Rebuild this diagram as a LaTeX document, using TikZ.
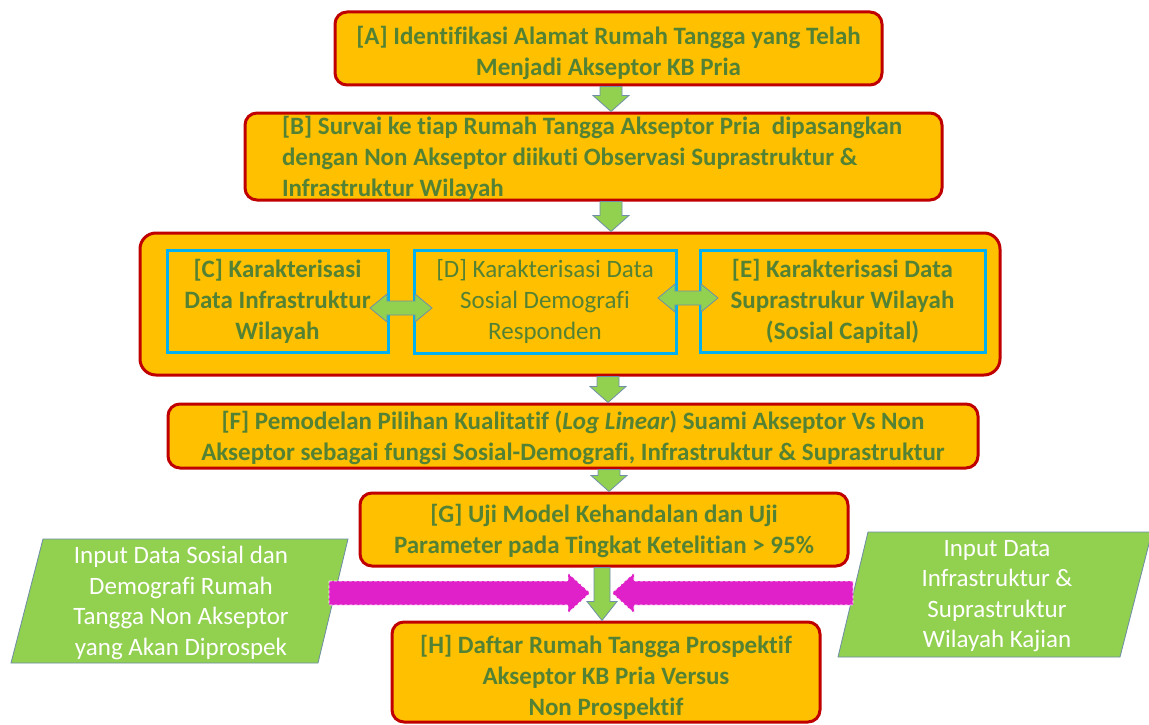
\documentclass[tikz,border=0pt]{standalone}
\usepackage{fontspec}
\setmainfont{Carlito}[Ligatures={TeX,NoCommon}]
\usetikzlibrary{calc}
\definecolor{orng}{HTML}{FFC000}
\definecolor{bred}{HTML}{C00000}
\definecolor{tgreen}{HTML}{548235}
\definecolor{cblue}{HTML}{00B0F0}
\definecolor{lgreen}{HTML}{92D050}
\definecolor{arrline}{HTML}{6F8FA8}
\definecolor{parline}{HTML}{6D8CA5}
\definecolor{mag}{HTML}{E020C8}
% vertical block arrow: #1 x-ref coordinate, #2 top anchor, #3 bottom anchor, #4 shaft half, #5 head half, #6 head length
\newcommand\varrow[6]{%
  \path[garrow] let \p1=(#1 |- #2), \p2=(#1 |- #3) in
    (\x1-#4pt,\y1) -- (\x1+#4pt,\y1) -- (\x1+#4pt,\y2+#6pt) -- (\x1+#5pt,\y2+#6pt)
    -- (\x1,\y2) -- (\x1-#5pt,\y2+#6pt) -- (\x1-#4pt,\y2+#6pt) -- cycle;}
% horizontal double arrow
\newcommand\dblarrow[2]{%
  \path[garrow] let \p1=(#1), \p2=(#2) in
    (\x1,\y1) -- (\x1+17pt,\y1+14pt) -- (\x1+17pt,\y1+7pt) -- (\x2-17pt,\y1+7pt)
    -- (\x2-17pt,\y1+14pt) -- (\x2,\y1) -- (\x2-17pt,\y1-14pt) -- (\x2-17pt,\y1-7pt)
    -- (\x1+17pt,\y1-7pt) -- (\x1+17pt,\y1-14pt) -- cycle;}
% magenta arrow pointing right (#1 start, #2 tip)
\newcommand\magright[2]{%
  \path[marrow] let \p1=(#1), \p2=(#2) in
    (\x1,\y1+12pt) -- (\x2-22pt,\y1+12pt) -- (\x2-22pt,\y1+20pt) -- (\x2,\y1)
    -- (\x2-22pt,\y1-20pt) -- (\x2-22pt,\y1-12pt) -- (\x1,\y1-12pt) -- cycle;}
% magenta arrow pointing left (#1 start, #2 tip)
\newcommand\magleft[2]{%
  \path[marrow] let \p1=(#1), \p2=(#2) in
    (\x1,\y1+12pt) -- (\x2+22pt,\y1+12pt) -- (\x2+22pt,\y1+20pt) -- (\x2,\y1)
    -- (\x2+22pt,\y1-20pt) -- (\x2+22pt,\y1-12pt) -- (\x1,\y1-12pt) -- cycle;}
\begin{document}
\begin{tikzpicture}[x=1pt,y=-1pt,
  obox/.style={draw=bred, fill=orng, line width=3pt, rounded corners=12pt, inner sep=0pt},
  otext/.style={text=tgreen, font=\bfseries\fontsize{25}{31}\selectfont, align=center, inner sep=0pt},
  contbox/.style={draw=bred, fill=orng, line width=3pt, rounded corners=16pt, inner sep=0pt},
  cbox/.style={draw=cblue, fill=orng, line width=3pt, text=tgreen, align=center,
    font=\fontsize{25}{31}\selectfont, inner sep=0pt},
  garrow/.style={fill=lgreen, draw=arrline, line width=0.8pt},
  marrow/.style={fill=mag, draw=white, line width=0.8pt, dash pattern=on 3pt off 2pt},
  para/.style={fill=lgreen, draw=parline, line width=0.8pt},
  ptext/.style={text=white, align=center, font=\fontsize{25}{30.5}\selectfont, inner sep=0pt}
]
\fill[white] (0,0) rectangle (1149,725);
\useasboundingbox (0,0) rectangle (1149,725);

% boxes
\node[obox, minimum width=547pt, minimum height=73pt] (A) at (608.5,48.5) {};
\node[otext] (At) at ($(A.center)+(0,4)$)
  {[A] Identifikasi Alamat Rumah Tangga yang Telah\\Menjadi Akseptor KB Pria};
\node[obox, minimum width=697pt, minimum height=87pt] (B) at (593.5,156.5) {};
\node[otext, text width=623pt, align=flush left] (Bt) at ($(B.center)+(0,1.5)$)
  {[B] Survai ke tiap Rumah Tangga Akseptor Pria\ \ dipasangkan\\dengan Non Akseptor diikuti Observasi Suprastruktur \&\\Infrastruktur Wilayah};
\node[contbox, minimum width=860pt, minimum height=142pt] (K) at (570,304) {};
\node[cbox, font=\bfseries\fontsize{25}{31}\selectfont, minimum width=221pt, minimum height=102pt] (C) at (277.5,301)
  {[C] Karakterisasi\\Data Infrastruktur\\Wilayah};
\node[cbox, minimum width=262pt, minimum height=103pt] (D) at (545,301.5)
  {[D] Karakterisasi Data\\Sosial Demografi\\Responden};
\node[cbox, font=\bfseries\fontsize{25}{31}\selectfont, minimum width=285pt, minimum height=102pt] (E) at (842.5,301)
  {[E] Karakterisasi Data\\Suprastrukur Wilayah\\(Sosial Capital)};
\node[obox, minimum width=810pt, minimum height=64pt] (F) at (573,436) {};
\node[otext] (Ft) at ($(F.center)+(0,2)$)
  {[F] Pemodelan Pilihan Kualitatif (\textit{Log Linear}) Suami Akseptor Vs Non\\Akseptor sebagai fungsi Sosial-Demografi, Infrastruktur \& Suprastruktur};
\node[obox, minimum width=488pt, minimum height=73pt] (G) at (604,529.5) {};
\node[otext] (Gt) at ($(G.center)+(0,1)$)
  {[G] Uji Model Kehandalan dan Uji\\Parameter pada Tingkat Ketelitian > 95\%};
\node[obox, minimum width=428pt, minimum height=100pt] (H) at (606,672) {};
\node[otext] (Ht) at ($(H.center)+(0,5)$)
  {[H] Daftar Rumah Tangga Prospektif\\Akseptor KB Pria Versus\\Non Prospektif};

% input parallelograms
\path[para] (43,539) -- (348,539) -- (318,663) -- (11,663) -- cycle;
\node[ptext] (inL) at (181,603) {Input Data Sosial dan\\Demografi Rumah\\Tangga Non Akseptor\\yang Akan Diprospek};
\path[para] (868,532) -- (1152,532) -- (1120,657) -- (838,657) -- cycle;
\node[ptext] (inR) at (997,596) {Input Data\\Infrastruktur \&\\Suprastruktur\\Wilayah Kajian};

% arrow reference coordinates
\coordinate (x1) at (611,0);
\coordinate (x2) at (611,0);
\coordinate (x3) at (608,0);
\coordinate (x4) at (609,0);
\coordinate (x5) at (602,0);
\coordinate (cd1) at (370,308);
\coordinate (cd2) at (432,308);
\coordinate (de1) at (658,298);
\coordinate (de2) at (718,298);
\coordinate (mL) at (329,593);
\coordinate (mLt) at (590,593);
\coordinate (mR) at (853,593);
\coordinate (mRt) at (612,593);

% vertical green arrows
\varrow{x1}{A.south}{B.north}{11}{18}{16}
\varrow{x2}{B.south}{K.north}{11}{18}{16}
\varrow{x3}{K.south}{F.north}{11}{18}{16}
\varrow{x4}{F.south}{G.north}{11}{18}{16}
\varrow{x5}{G.south}{H.north}{8}{15}{19}

% double arrows
\dblarrow{cd1}{cd2}
\dblarrow{de1}{de2}

% magenta arrows
\magright{mL}{mLt}
\magleft{mR}{mRt}
\end{tikzpicture}
\end{document}
